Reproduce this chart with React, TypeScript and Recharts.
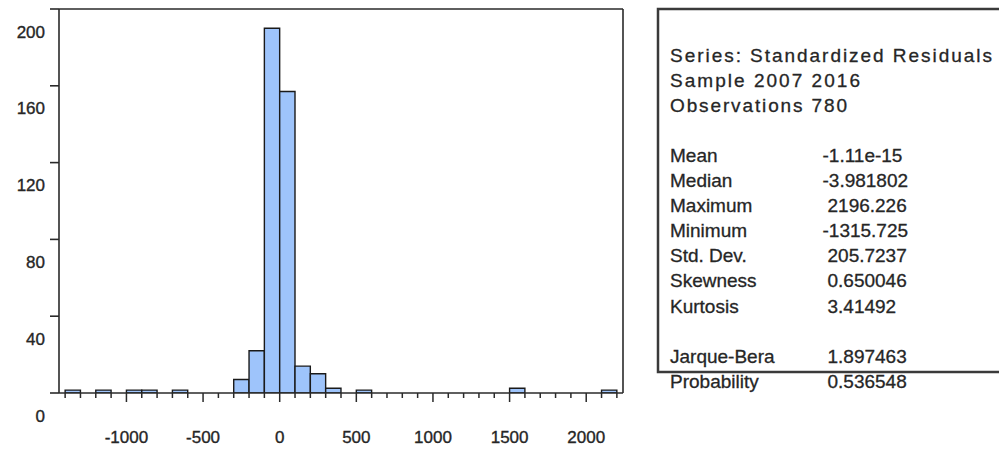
import { ComposedChart, Bar, XAxis, YAxis, ReferenceLine } from "recharts";

// histogram bins (left edge of each 100-wide bin) and their counts
const binLeft = [
  -1400, -1300, -1200, -1100, -1000, -900, -800, -700, -600, -500, -400, -300,
  -200, -100, 0, 100, 200, 300, 400, 500, 600, 700, 800, 900,
  1000, 1100, 1200, 1300, 1400, 1500, 1600, 1700, 1800, 1900, 2000, 2100,
];
const counts = [
  1.5, 0, 1.5, 0, 1.5, 1.5, 0, 1.5, 0, 0, 0, 7,
  22, 190, 157, 14, 10, 2.5, 0, 1.5, 0, 0, 0, 0,
  0, 0, 0, 0, 0, 2.5, 0, 0, 0, 0, 0, 1.5,
];

const xTicks = [
  -1400, -1300, -1200, -1100, -1000, -900, -800, -700, -600, -500, -400, -300,
  -200, -100, 0, 100, 200, 300, 400, 500, 600, 700, 800, 900, 1000, 1100,
  1200, 1300, 1400, 1500, 1600, 1700, 1800, 1900, 2000, 2100, 2200,
];
const xLabels = [-1000, -500, 0, 500, 1000, 1500, 2000];
const yTicks = [0, 40, 80, 120, 160, 200];

const infoLines = ["Series: Standardized Residuals", "Sample 2007 2016", "Observations 780"];
const statNames = ["Mean", "Median", "Maximum", "Minimum", "Std. Dev.", "Skewness", "Kurtosis", "", "Jarque-Bera", "Probability"];
const statValues = ["-1.11e-15", "-3.981802", "2196.226", "-1315.725", "205.7237", "0.650046", "3.41492", "", "1.897463", "0.536548"];

const FONT = '"Liberation Sans", Arial, sans-serif';
const AXIS = "#2a2a2a";
const TEXT = "#262626";

const data = binLeft.map((b, i) => ({ mid: b + 50, count: counts[i] }));

function XTick(props: any) {
  const { x, y, payload } = props;
  const v = payload.value;
  const major = xLabels.includes(v);
  return (
    <g>
      <line x1={x} y1={y} x2={x} y2={y + (major ? 9 : 5)} stroke={AXIS} strokeWidth={1.5} />
      {major && (
        <text x={x} y={y + 44} textAnchor="middle" dominantBaseline="central" fontSize={17} fontFamily={FONT} fill={TEXT} stroke={TEXT} strokeWidth={0.35}>
          {v}
        </text>
      )}
    </g>
  );
}

function YTick(props: any) {
  const { x, y, payload } = props;
  // labels sit a little below their tick marks in the source picture
  return (
    <text x={x - 3} y={y + 23} textAnchor="end" dominantBaseline="central" fontSize={17} fontFamily={FONT} fill={TEXT} stroke={TEXT} strokeWidth={0.35}>
      {payload.value}
    </text>
  );
}

function StatsBox() {
  const infoWidths = [322, 190, 177];
  return (
    <svg width={999} height={450} style={{ position: "absolute", left: 0, top: 0 }}>
      <g fontFamily={FONT} fontSize={19} fill={TEXT} stroke={TEXT} strokeWidth={0.3}>
        {infoLines.map((t, i) => (
          <text key={t} x={670} y={61.5 + i * 25} textLength={infoWidths[i]} lengthAdjust="spacing">
            {t}
          </text>
        ))}
        {statNames.map((n, i) =>
          n ? (
            <g key={n}>
              <text x={670} y={161.7 + i * 25.15}>{n}</text>
              <text x={statValues[i].startsWith("-") ? 822.5 : 827.5} y={161.7 + i * 25.15}>
                {statValues[i]}
              </text>
            </g>
          ) : null
        )}
      </g>
      <rect x={658} y={9} width={400} height={363} fill="none" stroke="#3a3a3a" strokeWidth={2.5} />
    </svg>
  );
}

export default function App() {
  return (
    <div style={{ position: "absolute", left: 0, top: 0, width: 999, height: 450, background: "#fff" }}>
      <ComposedChart width={640} height={450} data={data} margin={{ top: 9, right: 17, bottom: 0, left: 0 }}>
        <XAxis
          type="number"
          dataKey="mid"
          domain={[-1440, 2240]}
          allowDataOverflow
          ticks={xTicks}
          interval={0}
          tick={XTick}
          tickLine={false}
          tickSize={0}
          tickMargin={0}
          height={57}
          axisLine={{ stroke: AXIS, strokeWidth: 1.6 }}
        />
        <YAxis
          type="number"
          domain={[0, 200]}
          allowDataOverflow
          ticks={yTicks}
          interval={0}
          tick={YTick}
          tickSize={9}
          tickLine={{ stroke: AXIS, strokeWidth: 1.6 }}
          width={59}
          axisLine={{ stroke: AXIS, strokeWidth: 1.6 }}
        />
        <ReferenceLine y={200} stroke={AXIS} strokeWidth={1.6} />
        <ReferenceLine x={2240} stroke={AXIS} strokeWidth={1.6} />
        <Bar dataKey="count" fill="#9ec4fb" stroke="#1a1a1a" strokeWidth={1.4} barSize={15.3} isAnimationActive={false} />
      </ComposedChart>
      <StatsBox />
    </div>
  );
}
